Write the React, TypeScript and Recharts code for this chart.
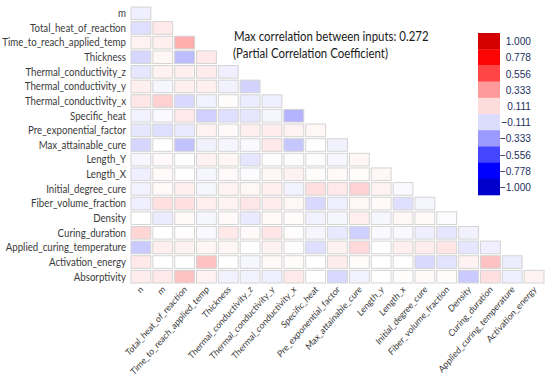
import React from "react";
import { ScatterChart, Scatter, XAxis, YAxis } from "recharts";

const rowLabels = [
  "m",
  "Total_heat_of_reaction",
  "Time_to_reach_applied_temp",
  "Thickness",
  "Thermal_conductivity_z",
  "Thermal_conductivity_y",
  "Thermal_conductivity_x",
  "Specific_heat",
  "Pre_exponential_factor",
  "Max_attainable_cure",
  "Length_Y",
  "Length_X",
  "Initial_degree_cure",
  "Fiber_volume_fraction",
  "Density",
  "Curing_duration",
  "Applied_curing_temperature",
  "Activation_energy",
  "Absorptivity",
];

const colLabels = [
  "n",
  "m",
  "Total_heat_of_reaction",
  "Time_to_reach_applied_temp",
  "Thickness",
  "Thermal_conductivity_z",
  "Thermal_conductivity_y",
  "Thermal_conductivity_x",
  "Specific_heat",
  "Pre_exponential_factor",
  "Max_attainable_cure",
  "Length_y",
  "Length_x",
  "Initial_degree_cure",
  "Fiber_volume_fraction",
  "Density",
  "Curing_duration",
  "Applied_curing_temperature",
  "Activation_energy",
];

// lower triangle, row i holds i+1 values (columns n .. previous variable)
const partialCorr: number[][] = [
  [-0.05],
  [-0.1, 0.07],
  [0.04, 0.05, 0.27],
  [-0.13, 0.03, -0.22, 0.07],
  [-0.08, 0.04, 0.05, 0.06, -0.05],
  [0.05, -0.03, 0.05, 0.05, -0.04, -0.14],
  [0.08, 0.15, -0.12, -0.04, 0.01, -0.06, -0.05],
  [-0.04, -0.02, 0.07, -0.15, -0.1, -0.08, -0.03, -0.25],
  [-0.08, -0.1, -0.07, 0.04, 0.02, 0.05, 0.06, 0.04, 0.03],
  [-0.13, 0, -0.2, -0.04, -0.03, -0.02, 0.07, -0.18, 0, -0.04],
  [-0.03, 0.02, 0, 0.04, 0.03, -0.08, -0.01, -0.01, 0.01, -0.03, 0.03],
  [-0.05, 0.02, 0, -0.03, 0.02, -0.01, 0.03, 0.04, 0.01, 0.02, 0.01, 0.03],
  [-0.04, 0.02, 0.05, -0.03, 0.04, 0.03, 0.05, -0.04, 0.1, 0.07, 0.14, 0.04, -0.02],
  [-0.05, 0.1, 0.1, 0.05, 0.04, 0.08, 0.06, 0.03, -0.12, -0.05, 0.03, 0.02, -0.1, -0.03],
  [0, -0.06, 0.02, -0.03, 0.02, -0.07, 0.02, 0.01, -0.04, -0.03, 0.05, -0.03, 0.03, 0.02, -0.01],
  [0.13, 0, 0.01, -0.02, 0.07, 0.02, 0.08, 0.01, -0.03, -0.07, -0.15, -0.02, -0.02, -0.05, -0.08, -0.04],
  [-0.17, 0.05, 0.04, 0.03, 0.03, 0, 0.04, 0.01, -0.1, 0.04, 0.12, 0, 0.05, 0.06, 0.08, -0.08, -0.05],
  [0.07, 0, 0, 0.2, 0, -0.03, 0.02, 0.01, 0, 0.06, 0.01, 0, 0, -0.12, -0.09, 0.04, 0.2, -0.06],
  [0.06, 0.07, 0.2, 0.04, -0.04, -0.04, -0.05, 0.07, 0, -0.12, -0.04, 0, 0.01, 0.02, 0.01, -0.17, 0.1, -0.05, 0.04],
];

const colorbarTicks = [1.0, 0.778, 0.556, 0.333, 0.111, -0.111, -0.333, -0.556, -0.778, -1.0];
const colorbarColors = [
  "#d40000", "#fb0505", "#ff4545", "#ff9a9a", "#ffdcdc",
  "#dcdcff", "#9a9aff", "#4545ff", "#0000ff", "#0000cc",
];

const titleLines = ["Max correlation between inputs: 0.272", "(Partial Correlation Coefficient)"];

const cells = partialCorr.flatMap((row, r) =>
  row.map((v, c) => ({ col: c, row: r, value: v }))
);

const W = 550;
const H = 379;
const margin = { top: 6, right: 5, bottom: 6, left: 0 };
const Y_AXIS_W = 130;
const X_AXIS_H = 89;
const plotW = W - margin.left - margin.right - Y_AXIS_W;
const plotH = H - margin.top - margin.bottom - X_AXIS_H;
const cellW = plotW / colLabels.length;
const cellH = plotH / rowLabels.length;
const SQUEEZE = 0.88;

const posStops: [number, string][] = [
  [0, "#ffffff"], [0.111, "#ffdcdc"], [0.333, "#ff9a9a"],
  [0.556, "#ff4545"], [0.778, "#ff0000"], [1, "#d40000"],
];
const negStops: [number, string][] = [
  [0, "#ffffff"], [0.111, "#dcdcff"], [0.333, "#9a9aff"],
  [0.556, "#4545ff"], [0.778, "#0000ff"], [1, "#0000cc"],
];

const hex = (s: string) => [1, 3, 5].map((i) => parseInt(s.slice(i, i + 2), 16));

function colorFor(v: number) {
  const stops = v >= 0 ? posStops : negStops;
  const a = Math.min(Math.abs(v), 1);
  for (let i = 1; i < stops.length; i++) {
    if (a <= stops[i][0]) {
      const [t0, c0] = stops[i - 1];
      const [t1, c1] = stops[i];
      const t = (a - t0) / (t1 - t0);
      const p = hex(c0);
      const q = hex(c1);
      const m = p.map((x, k) => Math.round(x + (q[k] - x) * t));
      return `rgb(${m[0]},${m[1]},${m[2]})`;
    }
  }
  return stops[stops.length - 1][1];
}

const CellShape = (props: any) => {
  const { cx, cy, payload } = props;
  if (cx == null || cy == null) return null;
  return (
    <rect
      x={cx - cellW / 2 + 1}
      y={cy - cellH / 2 + 1}
      width={cellW - 2}
      height={cellH - 2}
      fill={colorFor(payload.value)}
      stroke="#d4d4d4"
      strokeWidth={1}
    />
  );
};

const XTick = (props: any) => {
  const { x, y, payload } = props;
  return (
    <text
      transform={`translate(${x + 3},${y + 6}) scale(${SQUEEZE},1) rotate(-45)`}
      textAnchor="end"
      fontSize={9.5}
      fontFamily="Lato"
      fill="#3a3a3a"
    >
      {colLabels[payload.value]}
    </text>
  );
};

const YTick = (props: any) => {
  const { x, y, payload } = props;
  return (
    <text
      transform={`translate(${x},${y}) scale(${SQUEEZE},1)`}
      textAnchor="end"
      dy="0.35em"
      fontSize={11}
      fontFamily="Lato"
      fill="#3a3a3a"
    >
      {rowLabels[payload.value]}
    </text>
  );
};

const Overlay = () => {
  const barX = 478;
  const barTop = 33;
  const binH = 16.2;
  return (
    <svg width={W} height={H} style={{ position: "absolute", left: 0, top: 0, pointerEvents: "none" }}>
      {titleLines.map((t, i) => (
        <text
          key={t}
          transform={`translate(${234 - i},${41 + i * 16.5}) scale(${SQUEEZE},1)`}
          fontSize={13}
          fontFamily="Lato"
          fill="#1a1a1a"
        >
          {t}
        </text>
      ))}
      {colorbarColors.map((c, i) => (
        <rect key={c} x={barX} y={barTop + i * binH} width={22} height={binH + 0.3} fill={c} />
      ))}
      {colorbarTicks.map((v, i) => (
        <text
          key={v}
          transform={`translate(531,${barTop + (i + 0.5) * binH}) scale(${SQUEEZE},1)`}
          textAnchor="end"
          dy="0.36em"
          fontSize={11.5}
          fontFamily="Liberation Sans"
          fill="#22305e"
        >
          {(v < 0 ? "\u2212" : "") + Math.abs(v).toFixed(3)}
        </text>
      ))}
    </svg>
  );
};

export default function App() {
  return (
    <div style={{ position: "absolute", left: 0, top: 0, width: W, height: H, background: "#fff" }}>
      <ScatterChart width={W} height={H} margin={margin}>
        <XAxis
          type="number"
          dataKey="col"
          domain={[-0.5, colLabels.length - 0.5]}
          ticks={colLabels.map((_, i) => i)}
          interval={0}
          height={X_AXIS_H}
          axisLine={false}
          tickLine={false}
          tickSize={0}
          tickMargin={0}
          tick={<XTick />}
        />
        <YAxis
          type="number"
          dataKey="row"
          reversed
          domain={[-0.5, rowLabels.length - 0.5]}
          ticks={rowLabels.map((_, i) => i)}
          interval={0}
          width={Y_AXIS_W}
          axisLine={false}
          tickLine={false}
          tickSize={0}
          tickMargin={4}
          tick={<YTick />}
        />
        <Scatter data={cells} shape={<CellShape />} isAnimationActive={false} />
      </ScatterChart>
      <Overlay />
    </div>
  );
}
